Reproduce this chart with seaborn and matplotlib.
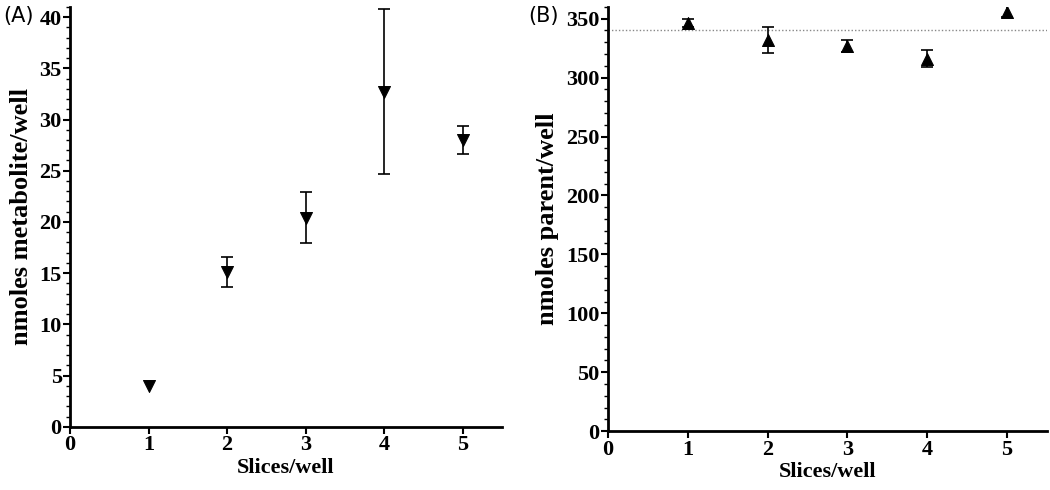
import matplotlib
matplotlib.use("Agg")
import matplotlib.pyplot as plt
import seaborn as sns
import pandas as pd
import numpy as np
from matplotlib.ticker import MultipleLocator

slices = [1, 2, 3, 4, 5]
metab_mean = [4.0, 15.1, 20.4, 32.7, 28.0]
metab_err = [np.nan, 1.45, 2.5, 8.05, 1.35]
parent_mean = [346, 332, 327, 316, 356]
parent_err = [3.5, 11, 5, 7, 5]
parent_ref = 340

sns.set_theme(style="ticks")
plt.rcParams['font.family'] = ['Liberation Serif', 'DejaVu Serif']
plt.rcParams['text.color'] = 'black'
plt.rcParams['axes.labelcolor'] = 'black'

fig = plt.figure(figsize=(10.5, 4.9), dpi=100)
axA = fig.add_axes([0.0667, 0.129, 0.4113, 0.857])
axB = fig.add_axes([0.579, 0.120, 0.418, 0.866])

dfA = pd.DataFrame({"x": slices, "y": metab_mean})
dfB = pd.DataFrame({"x": slices, "y": parent_mean})

axA.errorbar(slices, metab_mean, yerr=metab_err, fmt='none', ecolor='black',
             elinewidth=1.2, capsize=4, capthick=1.2, zorder=2)
sns.scatterplot(data=dfA, x="x", y="y", ax=axA, marker='v', color='black',
                s=75, edgecolor='black', zorder=3)

axB.axhline(parent_ref, color='#888888', linestyle=(0, (1, 1.5)), linewidth=1.0, zorder=1)
axB.errorbar(slices, parent_mean, yerr=parent_err, fmt='none', ecolor='black',
             elinewidth=1.2, capsize=4, capthick=1.2, zorder=2)
sns.scatterplot(data=dfB, x="x", y="y", ax=axB, marker='^', color='black',
                s=75, edgecolor='black', zorder=3)

axA.set_xlim(0, 5.5)
axA.set_ylim(0, 41)
axA.yaxis.set_major_locator(MultipleLocator(5))
axA.yaxis.set_minor_locator(MultipleLocator(1))
axB.set_xlim(0, 5.5)
axB.set_ylim(0, 360)
axB.yaxis.set_major_locator(MultipleLocator(50))
axB.yaxis.set_minor_locator(MultipleLocator(10))

for ax, ylab in [(axA, "nmoles metabolite/well"), (axB, "nmoles parent/well")]:
    ax.xaxis.set_major_locator(MultipleLocator(1))
    sns.despine(ax=ax)
    for sp in ["left", "bottom"]:
        ax.spines[sp].set_linewidth(2.0)
        ax.spines[sp].set_color('black')
    ax.tick_params(axis='both', which='major', length=5, width=1.5, labelsize=16,
                   colors='black', pad=1)
    ax.tick_params(axis='y', which='minor', length=3, width=1.0, colors='black')
    for lbl in ax.get_xticklabels() + ax.get_yticklabels():
        lbl.set_fontweight('bold')
    ax.set_xlabel("Slices/well", fontsize=16, fontweight='bold', labelpad=2)
    ax.set_ylabel(ylab, fontsize=19, fontweight='bold', labelpad=5)

fig.text(0.003, 0.968, "(A)", fontsize=15, family=['DejaVu Sans'], va='center', ha='left')
fig.text(0.503, 0.968, "(B)", fontsize=15, family=['DejaVu Sans'], va='center', ha='left')

fig.savefig("out.png", dpi=100)
